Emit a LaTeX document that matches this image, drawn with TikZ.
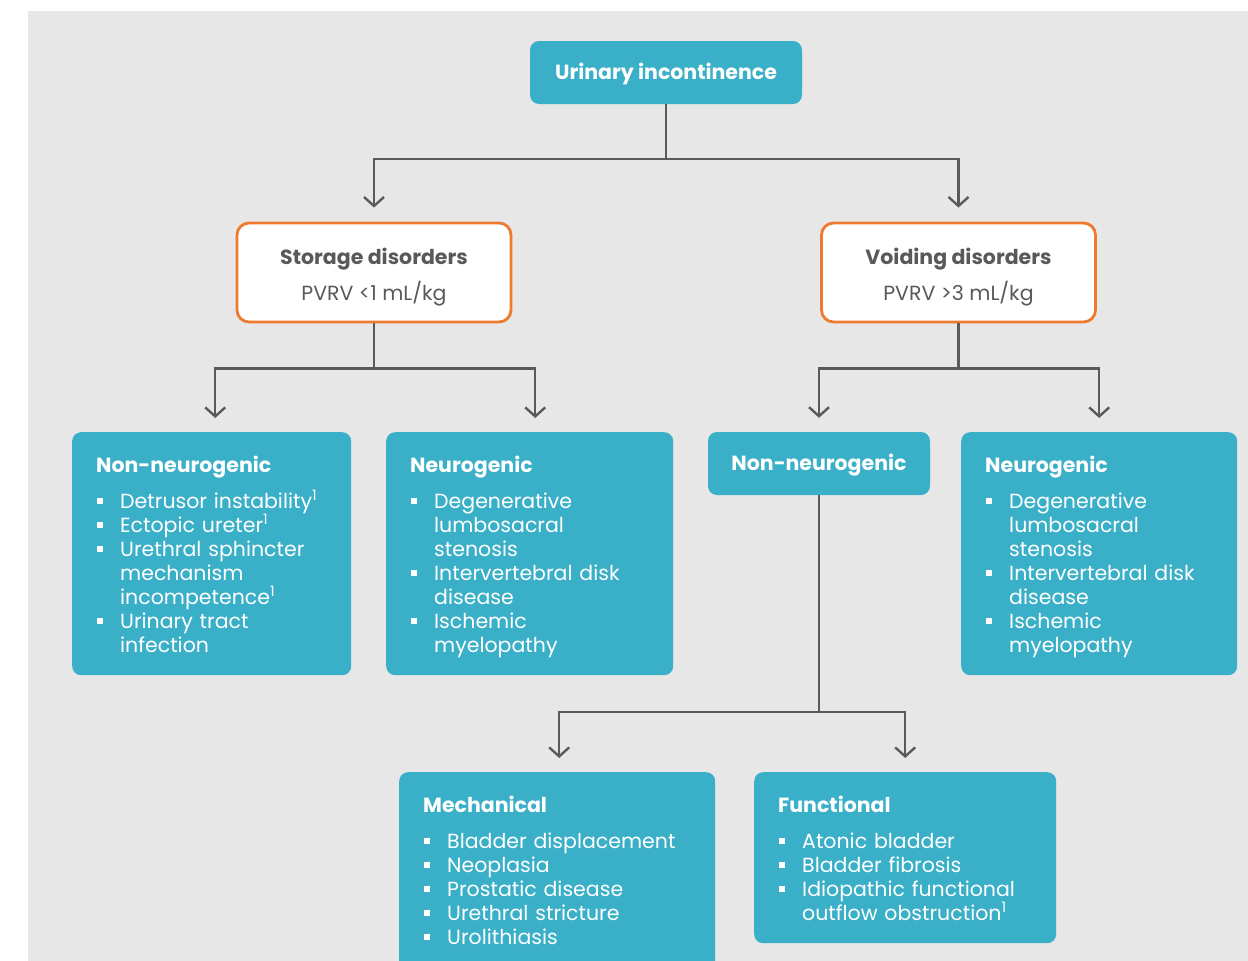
\documentclass[tikz,border=0pt]{standalone}
\usepackage{fontspec}
\setmainfont{Poppins}
\usetikzlibrary{arrows.meta,positioning}

\definecolor{uiteal}{HTML}{3AAFC8}
\definecolor{uiorange}{HTML}{EE7A2F}
\definecolor{uigrey}{HTML}{E6E7E6}
\definecolor{lineg}{HTML}{595A5C}
\definecolor{textg}{HTML}{58595B}

\newcommand{\bitem}[1]{\par\hangindent=24pt\hangafter=1\noindent
  \makebox[24pt][l]{\hspace{1pt}\raisebox{4.5pt}{\rule{6pt}{6pt}}}#1}
\newcommand{\sone}{\textsuperscript{1}}

\begin{document}
\begin{tikzpicture}[x=1pt,y=-1pt,
  line/.style={draw=lineg, line width=2.4pt},
  arr/.style={line, -{Straight Barb[length=9pt,width=20pt,line width=2.4pt]}, shorten >=14pt},
  tealbox/.style={fill=uiteal, rounded corners=9pt, text=white, inner sep=0pt,
    text height=14.5pt, text depth=0pt, font=\bfseries\fontsize{20.5}{24}\selectfont},
  orangebox/.style={fill=white, draw=uiorange, line width=2.8pt, rounded corners=12pt,
    text=textg, align=center, inner sep=0pt, minimum width=274pt, minimum height=99pt,
    font=\fontsize{20.5}{24}\selectfont},
  panel/.style={fill=uiteal, rounded corners=9pt, text=white, anchor=north west,
    inner xsep=24pt, inner ysep=25pt, text height=15pt, align=left,
    font=\fontsize{20.5}{24}\selectfont}
]
\useasboundingbox (0,0) rectangle (1248,961);
\clip (0,0) rectangle (1248,961);
\fill[uigrey] (28,11) rectangle (1248,961);

% top level
\node[tealbox, minimum width=272pt, minimum height=63pt] (uri) at (666,72.5) {Urinary incontinence};

% storage / voiding
\node[orangebox] (sto) at (374,272.5) {\rule{0pt}{26pt}{\bfseries Storage disorders}\\[10pt]PVRV <1 mL/kg};
\node[orangebox] (voi) at (958.5,272.5) {\rule{0pt}{26pt}{\bfseries Voiding disorders}\\[10pt]PVRV >3 mL/kg};

% third row
\node[panel, text width=231pt, text depth=178pt] (nn1) at (72,432) {%
  {\bfseries Non-neurogenic}\par\vspace{12pt}\raggedright
  \bitem{Detrusor instability\sone}
  \bitem{Ectopic ureter\sone}
  \bitem{Urethral sphincter\newline mechanism\newline incompetence\sone}
  \bitem{Urinary tract\newline infection}\par};
\node[panel, text width=239pt, text depth=178pt] (n1) at (386,432) {%
  {\bfseries Neurogenic}\par\vspace{12pt}\raggedright
  \bitem{Degenerative\newline lumbosacral\newline stenosis}
  \bitem{Intervertebral disk\newline disease}
  \bitem{Ischemic\newline myelopathy}\par};
\node[tealbox, minimum width=222pt, minimum height=63pt] (nn2) at (819,463.5) {Non-neurogenic};
\node[panel, text width=228pt, text depth=178pt] (n2) at (961,432) {%
  {\bfseries Neurogenic}\par\vspace{12pt}\raggedright
  \bitem{Degenerative\newline lumbosacral\newline stenosis}
  \bitem{Intervertebral disk\newline disease}
  \bitem{Ischemic\newline myelopathy}\par};

% bottom row
\node[panel, text width=268pt, text depth=155pt] (mech) at (399,772) {%
  {\bfseries Mechanical}\par\vspace{12pt}\raggedright
  \bitem{Bladder displacement}
  \bitem{Neoplasia}
  \bitem{Prostatic disease}
  \bitem{Urethral stricture}
  \bitem{Urolithiasis}\par};
\node[panel, text width=254pt, text depth=106pt] (func) at (754,772) {%
  {\bfseries Functional}\par\vspace{12pt}\raggedright
  \bitem{Atonic bladder}
  \bitem{Bladder fibrosis}
  \bitem{Idiopathic functional\newline outflow obstruction\sone}\par};

% connectors
\draw[line] (uri.south) -- ++(0,55) coordinate (j0);
\draw[arr] (j0) -| (sto.north);
\draw[arr] (j0) -| (voi.north);

\draw[line] (sto.south) -- ++(0,45) coordinate (j1);
\draw[arr] (j1) -| ([xshift=3.5pt]nn1.north);
\draw[arr] (j1) -| ([xshift=5.5pt]n1.north);

\draw[line] (voi.south) -- ++(0,45) coordinate (j2);
\draw[arr] (j2) -| (nn2.north);
\draw[arr] (j2) -| (n2.north);

\draw[line] (nn2.south) -- ++(0,217) coordinate (j3);
\draw[arr] (j3) -| ([xshift=2pt]mech.north);
\draw[arr] (j3) -| (func.north);
\end{tikzpicture}
\end{document}
